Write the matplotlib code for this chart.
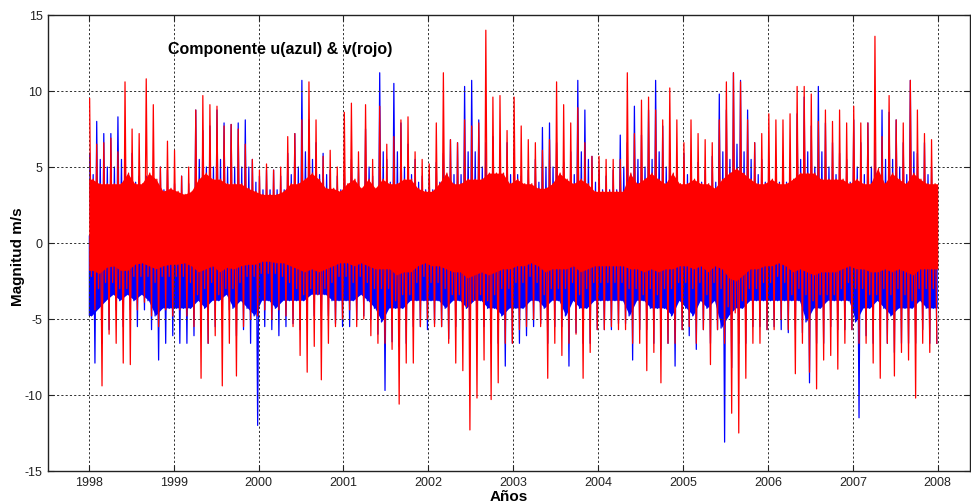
import numpy as np
import matplotlib
matplotlib.use("Agg")
import matplotlib.pyplot as plt

# ---------------- data ----------------
years = list(range(1998, 2009))
yticks = [-15, -10, -5, 0, 5, 10, 15]
title = "Componente u(azul) & v(rojo)"
ylabel = "Magnitud m/s"
xlabel = "Años"

# monthly values, 12 per year (1998 ... 2007)
# u component (blue) – tallest peak of the month
u_hi = [
    5.9, 8.0, 7.2, 7.2, 8.3, 6.1, 5.9, 4.4, 4.4, 3.9, 5.0, 4.8,      # 1998
    3.9, 4.4, 3.9, 8.75, 7.4, 7.7, 8.75, 7.9, 7.8, 7.9, 8.1, 5.5,    # 1999
    4.4, 4.8, 4.8, 4.4, 5.9, 7.2, 10.7, 8.1, 6.6, 5.9, 4.8, 4.4,     # 2000
    4.8, 5.5, 5.0, 7.5, 4.4, 11.2, 5.5, 10.5, 7.9, 6.5, 5.5, 4.4,    # 2001
    4.4, 5.3, 5.9, 6.8, 6.6, 10.3, 10.7, 8.1, 6.6, 7.0, 6.1, 6.6,    # 2002
    6.1, 4.4, 4.8, 5.5, 7.6, 7.9, 6.6, 5.3, 6.0, 10.7, 8.75, 5.7,    # 2003
    4.8, 4.4, 4.8, 7.1, 6.6, 9.0, 7.1, 8.75, 10.7, 7.7, 5.9, 4.8,    # 2004
    5.9, 4.8, 5.3, 4.8, 5.7, 9.8, 8.75, 11.2, 10.7, 8.75, 6.6, 5.5,  # 2005
    4.4, 5.3, 5.7, 4.4, 8.5, 9.6, 7.7, 10.3, 7.9, 6.6, 5.9, 5.5,     # 2006
    8.1, 6.6, 7.9, 6.6, 8.75, 8.6, 8.1, 6.6, 10.7, 5.9, 6.6, 5.0,    # 2007
]
# u component (blue) – typical upper spike of the month
u_hi2 = [
    4.5, 5.5, 5.0, 5.0, 5.5, 4.5, 4.0, 3.5, 3.5, 3.0, 3.5, 3.5,   # 1998
    3.0, 3.0, 3.0, 5.5, 5.0, 5.0, 5.5, 5.0, 5.0, 5.0, 5.0, 4.0,   # 1999
    3.5, 3.5, 3.5, 3.5, 4.5, 5.0, 6.0, 5.5, 4.5, 4.5, 3.5, 3.5,   # 2000
    3.5, 4.0, 3.5, 5.0, 3.5, 6.0, 4.0, 6.0, 5.0, 4.5, 4.0, 3.5,   # 2001
    3.5, 4.0, 4.5, 4.5, 4.5, 6.0, 6.0, 5.0, 4.5, 4.5, 4.5, 4.5,   # 2002
    4.5, 3.5, 3.5, 4.0, 5.0, 5.0, 4.5, 4.0, 4.5, 6.0, 5.5, 4.0,   # 2003
    3.5, 3.5, 3.5, 5.0, 4.5, 5.5, 5.0, 5.5, 6.0, 5.0, 4.5, 3.5,   # 2004
    4.5, 3.5, 4.0, 3.5, 4.0, 6.0, 5.5, 6.5, 6.0, 5.5, 4.5, 4.0,   # 2005
    3.5, 4.0, 4.0, 3.5, 5.5, 6.0, 5.0, 6.0, 5.0, 4.5, 4.0, 4.0,   # 2006
    5.0, 4.5, 5.0, 4.5, 5.5, 5.5, 5.0, 4.5, 6.0, 4.0, 4.5, 3.5,   # 2007
]
# u component (blue) – deepest trough of the month
u_lo = [
    -7.9, -6.6, -5.7, -4.4, -5.5, -4.4, -5.5, -4.4, -5.7, -7.7, -6.6, -6.1,   # 1998
    -6.6, -6.6, -6.1, -5.5, -6.6, -5.5, -5.0, -4.4, -6.1, -5.7, -6.6, -12.0,  # 1999
    -5.5, -5.7, -6.1, -5.5, -5.3, -5.7, -5.0, -4.8, -4.8, -4.8, -5.3, -5.5,   # 2000
    -5.5, -5.0, -4.8, -5.0, -6.0, -9.7, -6.5, -6.8, -6.6, -5.5, -5.5, -5.7,   # 2001
    -5.3, -5.5, -6.3, -5.5, -5.7, -6.6, -5.7, -5.5, -6.6, -6.6, -8.1, -6.6,   # 2002
    -6.6, -6.1, -5.5, -5.3, -6.6, -5.5, -5.5, -8.1, -5.9, -6.6, -6.6, -5.7,   # 2003
    -5.7, -5.7, -5.3, -5.3, -7.7, -5.7, -5.7, -6.6, -7.0, -6.6, -8.1, -5.7,   # 2004
    -6.1, -7.0, -5.7, -6.6, -5.7, -13.1, -8.2, -6.6, -6.6, -5.5, -5.5, -5.7,  # 2005
    -5.5, -5.7, -5.9, -5.7, -5.9, -9.2, -6.6, -6.6, -5.5, -5.7, -5.7, -5.7,   # 2006
    -11.5, -6.1, -6.6, -5.7, -6.6, -7.2, -6.6, -6.6, -6.6, -5.7, -6.6, -6.6,  # 2007
]
# u component (blue) – bottom of the solid band of the month
u_lo2 = [
    -4.8, -4.3, -3.8, -3.4, -3.8, -3.4, -3.8, -3.4, -3.8, -4.8, -4.3, -4.3,  # 1998
    -4.3, -4.3, -4.3, -3.8, -4.3, -3.8, -3.8, -3.4, -4.3, -3.8, -4.3, -4.8,  # 1999
    -3.8, -3.8, -4.3, -3.8, -3.8, -3.8, -3.8, -3.4, -3.4, -3.4, -3.8, -3.8,  # 2000
    -3.8, -3.8, -3.4, -3.8, -4.3, -5.2, -4.3, -4.3, -4.3, -3.8, -3.8, -3.8,  # 2001
    -3.8, -3.8, -4.3, -3.8, -3.8, -4.3, -3.8, -3.8, -4.3, -4.3, -4.8, -4.3,  # 2002
    -4.3, -4.3, -3.8, -3.8, -4.3, -3.8, -3.8, -4.8, -3.8, -4.3, -4.3, -3.8,  # 2003
    -3.8, -3.8, -3.8, -3.8, -4.8, -3.8, -3.8, -4.3, -4.3, -4.3, -4.8, -3.8,  # 2004
    -4.3, -4.8, -3.8, -4.3, -3.8, -5.6, -4.8, -4.3, -4.3, -3.8, -3.8, -3.8,  # 2005
    -3.8, -3.8, -3.8, -3.8, -3.8, -5.2, -4.3, -4.3, -3.8, -3.8, -3.8, -3.8,  # 2006
    -5.2, -4.3, -4.3, -3.8, -4.3, -4.8, -4.3, -4.3, -4.3, -3.8, -4.3, -4.3,  # 2007
]
# v component (red) – tallest peak of the month
v_hi = [
    9.5, 6.5, 6.6, 6.9, 6.0, 10.6, 7.5, 7.2, 10.8, 9.1, 5.0, 6.7,    # 1998
    6.1, 4.4, 5.0, 8.75, 9.7, 9.1, 9.0, 7.7, 7.8, 7.5, 6.5, 5.5,     # 1999
    4.8, 5.2, 4.8, 5.0, 7.0, 7.2, 8.1, 10.6, 8.1, 5.7, 6.1, 5.0,     # 2000
    8.6, 9.2, 6.0, 9.1, 5.5, 9.0, 6.5, 7.0, 8.1, 8.3, 6.0, 5.5,      # 2001
    5.2, 7.9, 11.2, 6.8, 6.6, 8.1, 7.7, 7.9, 14.0, 9.6, 9.7, 7.4,    # 2002
    9.6, 7.7, 6.8, 6.6, 6.1, 6.8, 10.6, 9.1, 7.9, 8.9, 6.6, 5.7,     # 2003
    5.7, 5.5, 5.5, 5.5, 11.2, 7.2, 9.4, 9.6, 8.75, 8.1, 10.2, 8.1,   # 2004
    6.6, 8.1, 7.2, 6.8, 6.6, 8.1, 10.6, 11.2, 10.6, 8.1, 6.6, 7.2,   # 2005
    8.5, 8.1, 8.1, 8.5, 10.3, 10.3, 9.8, 8.0, 8.75, 8.0, 8.75, 7.9,  # 2006
    9.0, 7.9, 7.9, 13.6, 7.0, 9.7, 8.1, 7.9, 10.7, 8.75, 7.2, 6.8,   # 2007
]
# v component (red) – top of the solid band of the month
v_hi2 = [
    4.2, 3.9, 3.9, 3.9, 3.9, 4.6, 3.9, 3.9, 4.6, 4.2, 3.4, 3.6,   # 1998
    3.4, 3.2, 3.4, 4.2, 4.6, 4.2, 4.2, 3.9, 3.9, 3.9, 3.6, 3.4,   # 1999
    3.2, 3.2, 3.2, 3.4, 3.9, 3.9, 4.2, 4.6, 4.2, 3.6, 3.6, 3.4,   # 2000
    3.9, 4.2, 3.6, 4.2, 3.6, 4.2, 3.9, 3.9, 4.2, 4.2, 3.6, 3.4,   # 2001
    3.4, 3.9, 4.6, 3.9, 3.9, 4.2, 4.2, 4.2, 4.6, 4.6, 4.6, 3.9,   # 2002
    4.2, 3.9, 3.9, 3.6, 3.6, 3.9, 4.6, 4.2, 3.9, 4.2, 3.9, 3.4,   # 2003
    3.4, 3.4, 3.4, 3.4, 4.6, 3.9, 4.2, 4.6, 4.2, 3.9, 4.6, 3.9,   # 2004
    3.9, 4.2, 3.9, 3.9, 3.6, 4.2, 4.6, 4.9, 4.6, 4.2, 3.9, 3.9,   # 2005
    4.2, 3.9, 3.9, 4.2, 4.6, 4.6, 4.6, 4.2, 4.2, 4.2, 4.2, 3.9,   # 2006
    4.2, 3.9, 3.9, 4.9, 3.9, 4.6, 4.2, 3.9, 4.6, 4.2, 3.9, 3.9,   # 2007
]
# v component (red) – bottom of the solid band of the month
v_fill_bot = [
    -1.8, -2.0, -1.6, -1.5, -1.8, -1.8, -1.4, -1.3, -1.5, -1.7, -1.5, -1.4,  # 1998
    -1.4, -1.3, -1.5, -1.9, -1.7, -1.5, -1.9, -1.6, -1.7, -1.5, -1.4, -1.4,  # 1999
    -1.2, -1.2, -1.3, -1.3, -1.5, -1.7, -1.9, -1.7, -1.9, -1.7, -1.5, -1.3,  # 2000
    -1.3, -1.5, -1.3, -1.5, -1.7, -1.7, -1.7, -2.1, -1.9, -1.9, -1.5, -1.3,  # 2001
    -1.5, -1.5, -1.7, -1.9, -1.9, -2.3, -2.1, -1.9, -2.1, -1.9, -1.7, -1.7,  # 2002
    -1.5, -1.5, -1.3, -1.5, -1.9, -1.7, -1.7, -1.7, -1.5, -1.9, -1.7, -1.5,  # 2003
    -1.5, -1.5, -1.5, -1.5, -1.7, -1.7, -1.9, -1.7, -1.9, -1.7, -1.7, -1.5,  # 2004
    -1.5, -1.7, -1.5, -1.9, -1.5, -1.7, -2.3, -2.5, -2.1, -1.7, -1.7, -1.5,  # 2005
    -1.5, -1.3, -1.5, -1.9, -1.7, -1.9, -2.1, -1.9, -1.9, -1.9, -1.7, -1.5,  # 2006
    -1.7, -1.7, -1.9, -1.9, -1.7, -1.9, -1.7, -1.9, -2.1, -1.7, -1.7, -1.7,  # 2007
]
# v component (red) – deepest trough of the month
v_lo = [
    -4.4, -9.4, -6.0, -6.6, -7.9, -8.0, -4.4, -3.9, -4.8, -5.5, -4.4, -4.8,    # 1998
    -4.4, -4.8, -5.5, -8.9, -6.6, -6.1, -9.4, -6.6, -8.75, -5.5, -5.0, -4.8,   # 1999
    -4.4, -5.0, -4.4, -4.8, -5.5, -7.4, -8.5, -6.8, -9.0, -6.6, -5.5, -5.0,    # 2000
    -4.4, -5.5, -5.0, -6.1, -6.6, -6.6, -7.0, -10.6, -7.9, -7.9, -5.5, -5.0,   # 2001
    -5.5, -5.5, -6.6, -7.9, -8.4, -12.3, -10.2, -7.7, -10.3, -9.2, -6.6, -6.6, # 2002
    -5.7, -5.5, -5.0, -5.5, -8.9, -6.6, -7.4, -6.6, -6.0, -8.9, -7.2, -5.7,    # 2003
    -5.7, -5.5, -5.7, -5.7, -6.6, -6.6, -8.4, -7.2, -9.2, -6.6, -6.6, -5.7,    # 2004
    -5.5, -6.6, -5.7, -8.0, -5.7, -6.6, -11.2, -12.5, -8.9, -6.6, -6.6, -5.7,  # 2005
    -5.7, -5.0, -5.7, -8.6, -6.6, -8.5, -9.6, -7.7, -7.4, -8.3, -6.6, -5.7,    # 2006
    -6.6, -6.6, -7.9, -8.9, -6.6, -8.75, -7.2, -7.7, -10.2, -6.6, -7.2, -6.6,  # 2007
]
# v component (red) – typical lower spike of the month
v_lo2 = [
    -2.2, -3.0, -2.6, -2.6, -3.0, -3.0, -2.2, -2.2, -2.2, -2.6, -2.2, -2.2,  # 1998
    -2.2, -2.2, -2.6, -3.4, -3.0, -2.6, -3.4, -3.0, -3.0, -2.6, -2.2, -2.2,  # 1999
    -2.0, -2.0, -2.0, -2.2, -2.6, -3.0, -3.4, -3.0, -3.4, -3.0, -2.6, -2.2,  # 2000
    -2.2, -2.6, -2.2, -2.6, -3.0, -3.0, -3.0, -3.8, -3.4, -3.4, -2.6, -2.2,  # 2001
    -2.6, -2.6, -3.0, -3.4, -3.4, -4.2, -3.8, -3.4, -3.8, -3.4, -3.0, -3.0,  # 2002
    -2.6, -2.6, -2.2, -2.6, -3.4, -3.0, -3.0, -3.0, -2.6, -3.4, -3.0, -2.6,  # 2003
    -2.6, -2.6, -2.6, -2.6, -3.0, -3.0, -3.4, -3.0, -3.4, -3.0, -3.0, -2.6,  # 2004
    -2.6, -3.0, -2.6, -3.4, -2.6, -3.0, -4.2, -4.6, -3.8, -3.0, -3.0, -2.6,  # 2005
    -2.6, -2.2, -2.6, -3.4, -3.0, -3.4, -3.8, -3.4, -3.4, -3.4, -3.0, -2.6,  # 2006
    -3.0, -3.0, -3.4, -3.4, -3.0, -3.4, -3.0, -3.4, -3.8, -3.0, -3.0, -3.0,  # 2007
]
# yearly upper edge of the (hidden) blue core (1998 ... 2007)
u_core_top = [0.5, 0.5, 0.5, 0.5, 0.5, 0.5, 0.5, 0.5, 0.5, 0.5]

# ---------------- build traces ----------------
def trace(hi, lo2, hi2, lo):
    return np.column_stack([hi, lo2, hi2, lo]).ravel()

n = len(u_hi)
t = years[0] + (np.arange(4 * n) + 0.5) / 48.0
u = trace(u_hi, u_lo2, u_hi2, u_lo)
v = trace(v_hi, v_lo2, v_hi2, v_lo)

t0, t1 = years[0], years[-1]
t_m = np.concatenate([[t0], years[0] + (np.arange(n) + 0.5) / 12.0, [t1]])
t_y = np.concatenate([[t0], np.array(years[:-1]) + 0.5, [t1]])
def ext(a):
    return np.concatenate([[a[0]], a, [a[-1]]])

# ---------------- figure ----------------
W, H = 971, 504
fig = plt.figure(figsize=(W / 100, H / 100), dpi=100)
ax = fig.add_axes([48 / W, 33 / H, 922 / W, 456 / H])

# blue: solid core (monthly lower edge, hidden upper edge) + trace
bx = np.concatenate([t_m, t_y[::-1]])
by = np.concatenate([ext(u_lo2), ext(u_core_top)[::-1]])
ax.fill(bx, by, color="#0000ff", lw=0, zorder=1)
ax.plot(t, u, color="#0000ff", lw=0.9, zorder=2)
# red: solid core + trace
ax.fill_between(t_m, ext(v_fill_bot), ext(v_hi2), color="#ff0000", lw=0, zorder=3)
ax.plot(t, v, color="#ff0000", lw=0.9, zorder=4)

ax.set_xlim(1997.52, 2008.38)
ax.set_ylim(-15, 15)
ax.set_xticks(years)
ax.set_yticks(yticks)
ax.set_xticklabels([str(y) for y in years])
ax.set_yticklabels([str(y) for y in yticks])

tickfont = ["Liberation Sans Narrow", "Liberation Sans", "DejaVu Sans"]
for lab in ax.get_xticklabels() + ax.get_yticklabels():
    lab.set_family(tickfont)
    lab.set_fontsize(9)
    lab.set_color("#222222")
ax.tick_params(direction="in", length=4, width=0.8, top=True, right=True,
               pad=4, colors="#222222")

ax.grid(True, color="#303030", linestyle=(0, (2.2, 2.2)), lw=0.7, zorder=5)
ax.set_axisbelow(False)
for s in ax.spines.values():
    s.set_linewidth(1.0)
    s.set_color("#222222")
    s.set_zorder(6)

ax.text(1998.936, 12.7, title, fontsize=11.5, fontweight="bold",
        family=["Liberation Sans", "DejaVu Sans"], va="center", ha="left", zorder=7)
fig.text(18 / W, 1 - 257 / H, ylabel, rotation=90, fontsize=11, fontweight="bold",
         family=["Liberation Sans", "DejaVu Sans"], va="center", ha="center")
fig.text(509 / W, 1 - 497 / H, xlabel, fontsize=11, fontweight="bold",
         family=["Liberation Sans Narrow", "Liberation Sans", "DejaVu Sans"],
         va="center", ha="center")

fig.savefig("out.png", dpi=100)
